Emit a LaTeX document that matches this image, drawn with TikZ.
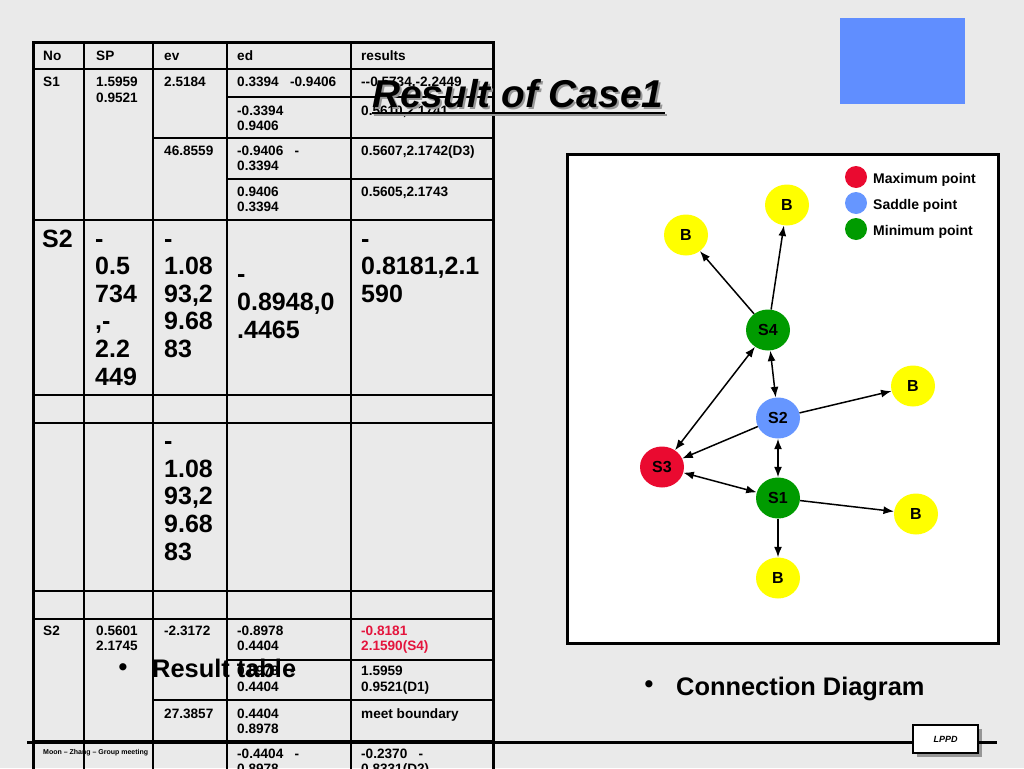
\documentclass[tikz,border=0pt]{standalone}
\usepackage{fontspec}
\setmainfont{Liberation Sans}
\usetikzlibrary{shapes.geometric,arrows.meta}
\definecolor{bgc}{RGB}{234,234,234}
\definecolor{maxred}{RGB}{234,10,48}
\definecolor{sadblue}{RGB}{102,150,255}
\definecolor{mingreen}{RGB}{0,155,0}
\definecolor{bye}{RGB}{255,255,0}
\definecolor{rectblue}{RGB}{96,142,255}
\definecolor{redtxt}{RGB}{228,20,60}
\definecolor{shadowg}{RGB}{150,150,150}
\tikzset{
  tbl/.style={font=\fontsize{13.6}{15.7}\selectfont\bfseries, anchor=base west, inner sep=0pt, align=left},
  bigt/.style={font=\fontsize{25}{27.6}\selectfont\bfseries, anchor=base west, inner sep=0pt, align=left},
  thin/.style={line width=1.4pt},
  thick3/.style={line width=3pt},
  gnode/.style={ellipse, minimum width=44pt, minimum height=41pt, inner sep=0pt, font=\fontsize{16}{16}\selectfont\bfseries},
  bnode/.style={gnode, fill=bye},
  arr/.style={-{Latex[length=10.5pt,width=8pt]}, line width=1.5pt},
  barr/.style={{Latex[length=10.5pt,width=8pt]}-{Latex[length=10.5pt,width=8pt]}, line width=1.5pt},
  legtxt/.style={anchor=base west, inner sep=0pt, font=\fontsize{14}{15}\selectfont\bfseries},
  bullettxt/.style={anchor=base west, inner sep=0pt, font=\fontsize{25.4}{28}\selectfont\bfseries},
}
\begin{document}
\begin{tikzpicture}[x=1pt,y=-1pt]
\useasboundingbox (0,0) rectangle (1024,768);
\clip (0,0) rectangle (1024,768);
\fill[bgc] (0,0) rectangle (1024,768);

% ---------- table ----------
\draw[thin] (33,69) -- (493,69);
\draw[thin] (227,97) -- (493,97);
\draw[thin] (153,138) -- (493,138);
\draw[thin] (227,179) -- (493,179);
\draw[thin] (33,220) -- (493,220);
\draw[thin] (33,395) -- (493,395);
\draw[thin] (33,423) -- (493,423);
\draw[thin] (33,591) -- (493,591);
\draw[thin] (33,619) -- (493,619);
\draw[thin] (227,660) -- (493,660);
\draw[thin] (153,700) -- (493,700);
\draw[thin] (33,741) -- (493,741);
\foreach \cx in {84,153,227,351} \draw[thin] (\cx,43) -- (\cx,790);
\draw[thick3] (33,790) -- (33,43) -- (493,43) -- (493,790);

% (multi-line nodes: base anchor = baseline of last line)
% header
\node[tbl] (hNo) at (43,60) {No};
\node[tbl] (hSP) at (96,60) {SP};
\node[tbl] (hev) at (164,60) {ev};
\node[tbl] (hed) at (237,60) {ed};
\node[tbl] (hres) at (361,60) {results};
% S1 rows
\node[tbl] (aNo) at (43,86.5) {S1};
\node[tbl] (aSP) at (96,102.2) {1.5959\\0.9521};
\node[tbl] (aev) at (164,86.5) {2.5184};
\node[tbl] (aed1) at (237,86.5) {0.3394\ \ \ -0.9406};
\node[tbl] (ares1) at (361,86.5) {{-}{-}0.5734,-2.2449};
\node[tbl] (aed2) at (237,130.7) {-0.3394\\0.9406};
\node[tbl] (ares2) at (361,115) {0.5610,2.1741};
\node[tbl] (aev3) at (164,155) {46.8559};
\node[tbl] (aed3) at (237,170.7) {-0.9406\ \ \ -\\0.3394};
\node[tbl] (ares3) at (361,155) {0.5607,2.1742(D3)};
\node[tbl] (aed4) at (237,211.7) {0.9406\\0.3394};
\node[tbl] (ares4) at (361,196) {0.5605,2.1743};
% big S2 row
\node[bigt] (bNo) at (42,247) {S2};
\node[bigt] (bSP) at (95,385) {-\\0.5\\734\\,-\\2.2\\449};
\node[bigt] (bev) at (164,357.4) {-\\1.08\\93,2\\9.68\\83};
\node[bigt] (bed) at (237,338) {-\\0.8948,0\\.4465};
\node[bigt] (bres) at (361,302.2) {-\\0.8181,2.1\\590};
\node[bigt] (cev) at (164,560) {-\\1.08\\93,2\\9.68\\83};
% lower S2 rows
\node[tbl] (dNo) at (43,635) {S2};
\node[tbl] (dSP) at (96,650.7) {0.5601\\2.1745};
\node[tbl] (dev) at (164,635) {-2.3172};
\node[tbl] (ded1) at (237,650.7) {-0.8978\\0.4404};
\node[tbl, text=redtxt] (dres1) at (361,650.7) {-0.8181\\2.1590(S4)};
\node[tbl] (ded2) at (237,691) {0.8978\ \ \ -\\0.4404};
\node[tbl] (dres2) at (361,691) {1.5959\\0.9521(D1)};
\node[tbl] (dev3) at (164,718) {27.3857};
\node[tbl] (ded3) at (237,733.7) {0.4404\\0.8978};
\node[tbl] (dres3) at (361,718) {meet boundary};
\node[tbl] (ded4) at (237,773.7) {-0.4404\ \ \ -\\0.8978};
\node[tbl] (dres4) at (361,773.7) {-0.2370\ \ \ -\\0.8331(D2)};

% ---------- bullets ----------
\node[font=\fontsize{25}{28}\selectfont\bfseries, inner sep=0pt] (bul1) at (123,670) {\textbullet};
\node[bullettxt] (rtab) at (152,677) {Result table};
\node[font=\fontsize{25}{28}\selectfont\bfseries, inner sep=0pt] (bul2) at (649,687) {\textbullet};
\node[bullettxt] (cdia) at (676,695) {Connection Diagram};

% ---------- title ----------
\node[anchor=base west, inner sep=0pt, text=shadowg, font=\fontsize{38.8}{40}\selectfont\bfseries\itshape] (titsh) at (374,109) {Result of Case1};
\draw[shadowg, line width=2pt] (374,115) -- (667,115);
\node[anchor=base west, inner sep=0pt, font=\fontsize{38.8}{40}\selectfont\bfseries\itshape] (title) at (372,107) {Result of Case1};
\draw[line width=2pt] (372,113) -- (665,113);

% ---------- blue rectangle ----------
\fill[rectblue] (840,18) rectangle (965,104);

% ---------- diagram ----------
\draw[thick3, fill=white] (567,154) rectangle (998,643);
\node[bnode] (B1) at (686,235) {B};
\node[bnode] (B2) at (787,205) {B};
\node[gnode, fill=mingreen] (S4) at (768,330) {S4};
\node[bnode] (B3) at (913,386) {B};
\node[gnode, fill=sadblue] (S2) at (778,418) {S2};
\node[gnode, fill=maxred] (S3) at (662,467) {S3};
\node[gnode, fill=mingreen] (S1) at (778,498) {S1};
\node[bnode] (B4) at (916,514) {B};
\node[bnode] (B5) at (778,578) {B};

\draw[arr] (S4) -- (B1);
\draw[arr] (S4) -- (B2);
\draw[barr] (S4) -- (S2);
\draw[barr] (S4) -- (S3);
\draw[arr] (S2) -- (S3);
\draw[arr] (S2) -- (B3);
\draw[barr] (S2) -- (S1);
\draw[barr] (S3) -- (S1);
\draw[arr] (S1) -- (B4);
\draw[arr] (S1) -- (B5);

% legend
\fill[maxred] (856,177) circle (11);
\fill[sadblue] (856,203) circle (11);
\fill[mingreen] (856,229) circle (11);
\node[legtxt] (l1) at (873,183.5) {Maximum point};
\node[legtxt] (l2) at (873,209) {Saddle point};
\node[legtxt] (l3) at (873,235.5) {Minimum point};

% ---------- footer ----------
\fill[shadowg] (917,729) rectangle (982,757);
\draw[thick3] (27,742) -- (913,742);
\draw[thick3] (978,742) -- (997,742);
\node[draw, line width=1.2pt, fill=white, minimum width=65pt, minimum height=28pt, inner sep=0pt, font=\fontsize{9}{10}\selectfont\bfseries\itshape] (lppd) at (945.5,739) {LPPD};
\node[anchor=base west, inner sep=0pt, font=\fontsize{7}{8}\selectfont\bfseries] (foot) at (43,754) {Moon -- Zhang -- Group meeting};
\end{tikzpicture}
\end{document}
